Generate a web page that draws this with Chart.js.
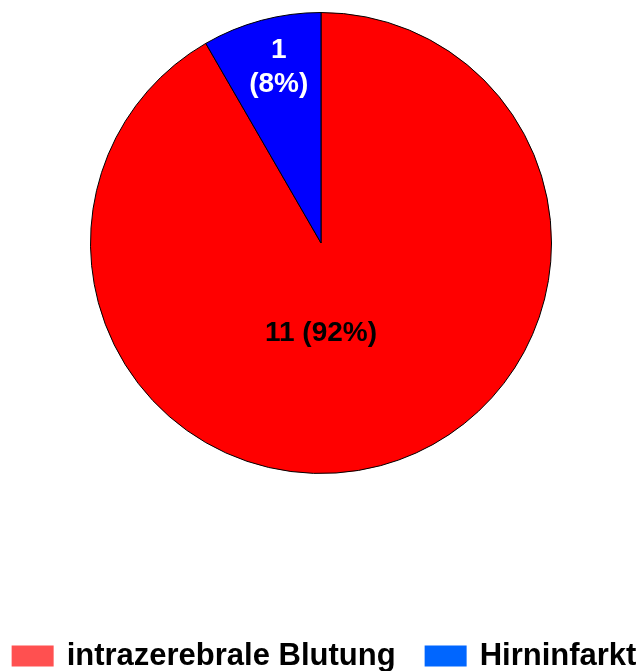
<!DOCTYPE html>
<html>
<head>
<meta charset="utf-8">
<script src="https://cdn.jsdelivr.net/npm/chart.js@4.4.1/dist/chart.umd.min.js"></script>
<style>
    html, body { margin: 0; padding: 0; background: #fff; }
    #wrap { width: 640px; height: 671px; }
</style>
</head>
<body>
<div id="wrap"><canvas id="chart"></canvas></div>
<script>
// Data
const categories = ['intrazerebrale Blutung', 'Hirninfarkt'];
const counts = [11, 1];
const sliceColors = ['#ff0000', '#0000ff'];
const legendColors = ['#ff5050', '#0066ff'];
const labelColors = ['#000000', '#ffffff'];

const FONT = '"Liberation Sans", Arial, Helvetica, sans-serif';

// Value labels inside the slices: "n (p%)"
const sliceLabels = {
    id: 'sliceLabels',
    afterDatasetsDraw(chart, args, opts) {
        const ctx = chart.ctx;
        const meta = chart.getDatasetMeta(0);
        const values = chart.data.datasets[0].data;
        const total = values.reduce((a, b) => a + b, 0);
        ctx.save();
        ctx.font = `bold ${opts.size}px ${FONT}`;
        ctx.textAlign = 'center';
        ctx.textBaseline = 'middle';
        meta.data.forEach((arc, i) => {
            const p = arc.getProps(['x', 'y', 'startAngle', 'endAngle', 'outerRadius'], true);
            const pos = opts.positions[i] || {};
            const angle = pos.angle !== undefined
                ? (pos.angle - 90) * Math.PI / 180
                : (p.startAngle + p.endAngle) / 2;
            const r = p.outerRadius * (pos.frac || 0.6);
            const cx = p.x + Math.cos(angle) * r;
            const cy = p.y + Math.sin(angle) * r;
            const pct = Math.round(values[i] / total * 100);
            const narrow = (p.endAngle - p.startAngle) < Math.PI / 3;
            const lines = narrow ? [String(values[i]), `(${pct}%)`] : [`${values[i]} (${pct}%)`];
            ctx.fillStyle = labelColors[i];
            lines.forEach((line, k) => {
                ctx.fillText(line, cx, cy + (k - (lines.length - 1) / 2) * opts.lineHeight);
            });
        });
        ctx.restore();
    }
};

// Legend row at the bottom
const bottomLegend = {
    id: 'bottomLegend',
    afterDraw(chart, args, opts) {
        const ctx = chart.ctx;
        ctx.save();
        ctx.font = `bold ${opts.size}px ${FONT}`;
        ctx.textBaseline = 'middle';
        ctx.textAlign = 'left';
        const widths = categories.map(c => ctx.measureText(c).width);
        const total = widths.reduce((s, w) => s + opts.boxWidth + opts.textGap + w, 0)
            + opts.itemGap * (categories.length - 1);
        let x = (chart.width - total) / 2 + opts.shiftX;
        const y = opts.y;
        categories.forEach((c, i) => {
            ctx.fillStyle = legendColors[i];
            ctx.fillRect(x, y - opts.boxHeight / 2, opts.boxWidth, opts.boxHeight);
            x += opts.boxWidth + opts.textGap;
            ctx.fillStyle = '#000';
            ctx.fillText(c, x, y);
            x += widths[i] + opts.itemGap;
        });
        ctx.restore();
    }
};

new Chart(document.getElementById('chart'), {
    type: 'pie',
    data: {
        labels: categories,
        datasets: [{
            data: counts,
            backgroundColor: sliceColors,
            borderColor: '#000000',
            borderWidth: 1,
            hoverOffset: 0
        }]
    },
    options: {
        responsive: true,
        maintainAspectRatio: false,
        animation: false,
        events: [],
        layout: { padding: { top: 12, bottom: 197, left: 2, right: 0 } },
        plugins: {
            legend: { display: false },
            tooltip: { enabled: false },
            sliceLabels: {
                size: 28,
                lineHeight: 34,
                positions: [{ angle: 180, frac: 0.39 }, { angle: 346.5, frac: 0.785 }]
            },
            bottomLegend: {
                size: 31,
                y: 656,
                boxWidth: 42,
                boxHeight: 21,
                textGap: 13,
                itemGap: 29,
                shiftX: 4
            }
        }
    },
    plugins: [sliceLabels, bottomLegend]
});
</script>
</body>
</html>
